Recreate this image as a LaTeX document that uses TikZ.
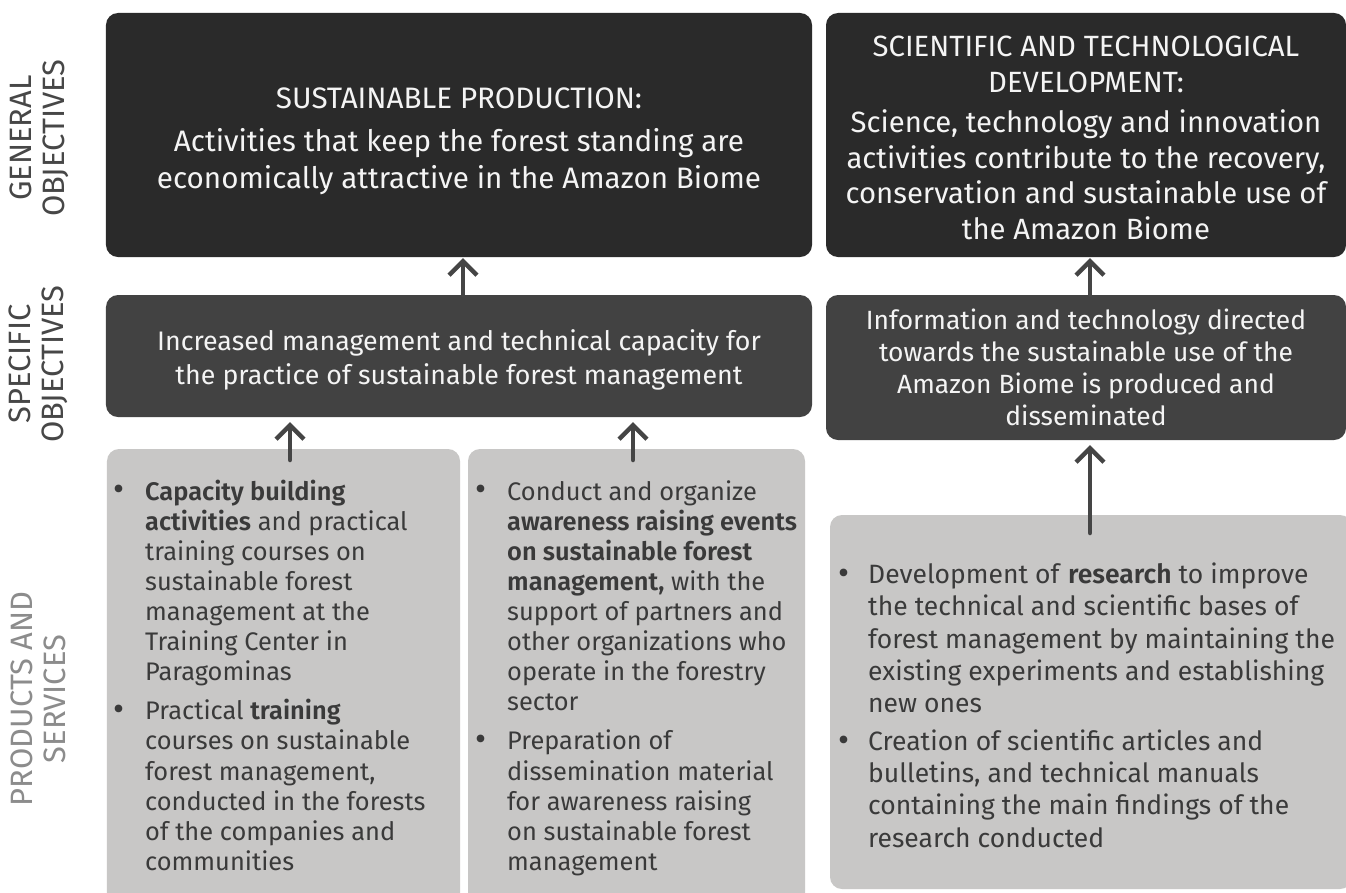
\documentclass[tikz,border=0pt]{standalone}
\usepackage{fontspec}
\setmainfont{Fira Sans}[BoldFont=* SemiBold]
\usetikzlibrary{arrows.meta}

\definecolor{genfill}{HTML}{2A2A2A}
\definecolor{specfill}{HTML}{424242}
\definecolor{prodfill}{HTML}{C8C7C6}
\definecolor{ink}{HTML}{3A3A3A}
\definecolor{lbldark}{HTML}{474747}
\definecolor{lbllight}{HTML}{8C8C8C}
\definecolor{arrowc}{HTML}{454545}
\definecolor{paper}{HTML}{F4F4F4}

% bullet mark for the item lists
\newcommand\bdot{\hspace{0.5bp}\raisebox{-0.5bp}{\fontsize{34}{34}\selectfont•}}

\tikzset{
  box/.style={rounded corners=12bp, inner sep=0pt, outer sep=0pt},
  genbox/.style={box, fill=genfill},
  specbox/.style={box, fill=specfill},
  prodbox/.style={box, fill=prodfill},
  boxtext/.style={inner sep=0pt, align=center, text=paper},
  prodtext/.style={anchor=north west, inner sep=0pt, text=ink},
  sidelabel/.style={rotate=90, align=center, font=\fontsize{31}{33}\selectfont},
  uparrow/.style={draw=arrowc, line width=4.5bp, line cap=round, line join=round,
    -{Straight Barb[length=14bp, width=28bp, line width=4.5bp]}}
}

\begin{document}
\begin{tikzpicture}[x=1bp, y=-1bp]
\useasboundingbox (0,0) rectangle (1346,892);
\fill[white] (0,0) rectangle (1346,892);

% row labels
\node[sidelabel, text=lbldark] (lgen) at (39,138) {GENERAL\\OBJECTIVES};
\node[sidelabel, text=lbldark] (lspec) at (38,364) {SPECIFIC\\OBJECTIVES};
\node[sidelabel, text=lbllight] (lprod) at (38,699) {PRODUCTS AND\\SERVICES};

% general objectives
\node[genbox, minimum width=706bp, minimum height=244bp] (genL) at (459,135) {};
\node[genbox, minimum width=520bp, minimum height=244bp] (genR) at (1086,135) {};
\node[boxtext, font=\fontsize{29.7}{37}\selectfont] (genLt) at (459,141)
  {SUSTAINABLE PRODUCTION:\\[6bp]
   Activities that keep the forest standing are\\
   economically attractive in the Amazon Biome};
\node[boxtext, font=\fontsize{29.4}{36}\selectfont] (genRt) at (1086,138)
  {SCIENTIFIC AND TECHNOLOGICAL\\
   DEVELOPMENT:\\[4bp]
   Science, technology and innovation\\
   activities contribute to the recovery,\\
   conservation and sustainable use of\\
   the Amazon Biome};

% specific objectives
\node[specbox, minimum width=706bp, minimum height=122bp] (specL) at (459,356) {};
\node[specbox, minimum width=520bp, minimum height=145bp] (specR) at (1086,367.5) {};
\node[boxtext, font=\fontsize{26.9}{34}\selectfont] (specLt) at (459,360)
  {Increased management and technical capacity for\\
   the practice of sustainable forest management};
\node[boxtext, font=\fontsize{26.5}{32}\selectfont] (specRt) at (1086,367.5)
  {Information and technology directed\\
   towards the sustainable use of the\\
   Amazon Biome is produced and\\
   disseminated};

% products and services
\node[prodbox, minimum width=353bp, minimum height=456bp] (prodL) at (283.5,677) {};
\node[prodbox, minimum width=337bp, minimum height=456bp] (prodM) at (636.5,677) {};
\node[prodbox, minimum width=522bp, minimum height=374bp] (prodR) at (1091,702) {};

\node[prodtext, font=\fontsize{25.5}{30.2}\selectfont] (tL) at (113,479)
  {\begin{tabular}{@{}p{32bp}@{}l@{}}
   \bdot & \textbf{Capacity building}\\
   & \textbf{activities} and practical\\
   & training courses on\\
   & sustainable forest\\
   & management at the\\
   & Training Center in\\
   & Paragominas\\[9bp]
   \bdot & Practical \textbf{training}\\
   & courses on sustainable\\
   & forest management,\\
   & conducted in the forests\\
   & of the companies and\\
   & communities
   \end{tabular}};
\node[prodtext, font=\fontsize{25.5}{30.2}\selectfont] (tM) at (475,479)
  {\begin{tabular}{@{}p{32bp}@{}l@{}}
   \bdot & Conduct and organize\\
   & \textbf{awareness raising events}\\
   & \textbf{on sustainable forest}\\
   & \textbf{management,} with the\\
   & support of partners and\\
   & other organizations who\\
   & operate in the forestry\\
   & sector\\[9bp]
   \bdot & Preparation of\\
   & dissemination material\\
   & for awareness raising\\
   & on sustainable forest\\
   & management
   \end{tabular}};
\node[prodtext, font=\fontsize{26.6}{32.3}\selectfont] (tR) at (838,561)
  {\begin{tabular}{@{}p{30bp}@{}l@{}}
   \bdot & Development of \textbf{research} to improve\\
   & the technical and scientific bases of\\
   & forest management by maintaining the\\
   & existing experiments and establishing\\
   & new ones\\[6bp]
   \bdot & Creation of scientific articles and\\
   & bulletins, and technical manuals\\
   & containing the main findings of the\\
   & research conducted
   \end{tabular}};

% arrow columns
\coordinate (c1) at (463,0);
\coordinate (c2) at (290,0);
\coordinate (c3) at (633,0);
\coordinate (c4) at (1090,0);

\draw[uparrow, shorten >=1bp] (specL.north -| c1) -- (genL.south -| c1);
\draw[uparrow, shorten >=1bp] (specR.north -| c4) -- (genR.south -| c4);
\draw[uparrow, shorten <=-11bp, shorten >=5bp] (prodL.north -| c2) -- (specL.south -| c2);
\draw[uparrow, shorten <=-11bp, shorten >=5bp] (prodM.north -| c3) -- (specL.south -| c3);
\draw[uparrow, shorten <=-18bp, shorten >=5bp] (prodR.north -| c4) -- (specR.south -| c4);
\end{tikzpicture}
\end{document}
